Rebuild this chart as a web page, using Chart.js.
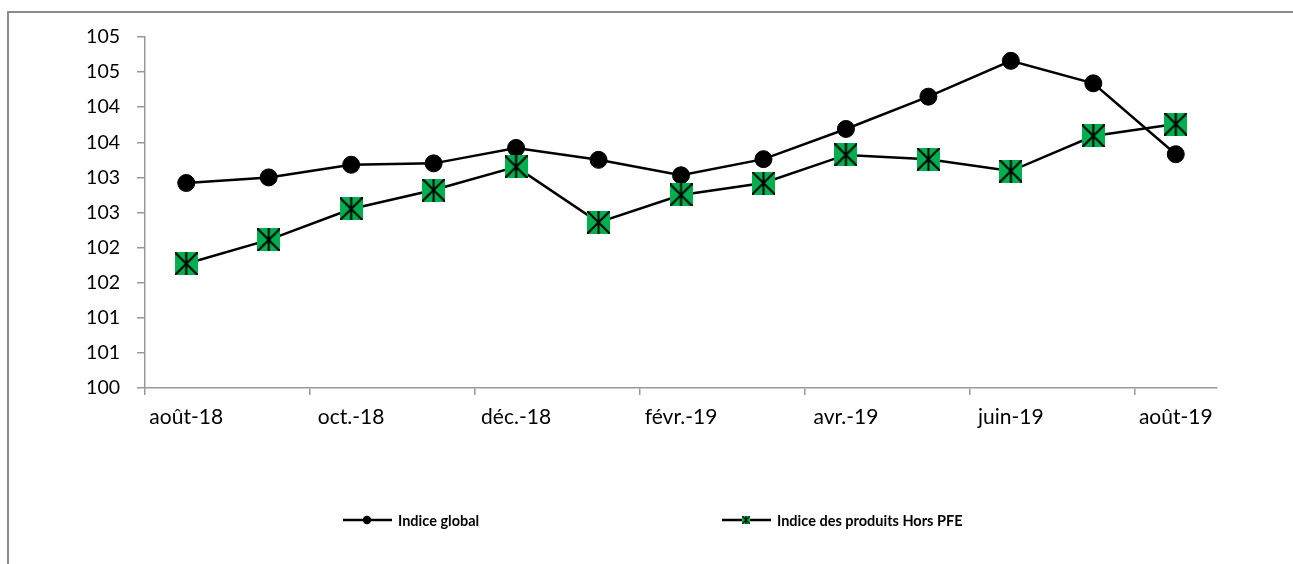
<!DOCTYPE html>
<html>
<head>
<meta charset="utf-8">
<script src="https://cdn.jsdelivr.net/npm/chart.js@4.4.0/dist/chart.umd.min.js"></script>
<style>
  html, body { margin: 0; padding: 0; background: #fff; }
  #frame { position: absolute; left: 7px; top: 11px; width: 1300px; height: 600px; border-left: 2px solid #8c8c8c; border-top: 2px solid #8c8c8c; }
  #wrap { position: absolute; left: 0; top: 0; width: 1293px; height: 564px; }
</style>
</head>
<body>
<div id="frame"></div>
<div id="wrap"><canvas id="chart" width="1293" height="564"></canvas></div>
<script>
const months = ["août-18", "sept.-18", "oct.-18", "nov.-18", "déc.-18", "janv.-19", "févr.-19", "mars-19", "avr.-19", "mai-19", "juin-19", "juil.-19", "août-19"];
const indiceGlobal = [102.92, 103.0, 103.18, 103.2, 103.42, 103.25, 103.03, 103.26, 103.69, 104.15, 104.66, 104.34, 103.33];
const indiceHorsPFE = [101.77, 102.11, 102.55, 102.82, 103.15, 102.36, 102.75, 102.92, 103.32, 103.26, 103.09, 103.59, 103.76];

const FONT = "Lato, 'Open Sans', sans-serif";
const GREEN = "#00b050";

// marker vert avec étoile
function makeStarSquare(size, lw) {
  const c = document.createElement("canvas");
  c.width = size; c.height = size;
  const g = c.getContext("2d");
  g.fillStyle = GREEN;
  g.fillRect(0, 0, size, size);
  g.strokeStyle = "#000";
  g.lineWidth = lw;
  g.beginPath();
  g.moveTo(0, 0); g.lineTo(size, size);
  g.moveTo(size, 0); g.lineTo(0, size);
  g.moveTo(size / 2, 0); g.lineTo(size / 2, size);
  g.stroke();
  return c;
}
const bigMarker = makeStarSquare(23, 2);
const smallMarker = makeStarSquare(8, 1.2);

const legendPlugin = {
  id: "bottomLegend",
  afterDraw(chart) {
    const ctx = chart.ctx;
    const ds = chart.data.datasets;
    const items = [
      { x: 343, label: ds[0].label, marker: "circle" },
      { x: 722, label: ds[1].label, marker: "square" }
    ];
    const y = 520;
    ctx.save();
    items.forEach(it => {
      ctx.strokeStyle = "#000";
      ctx.lineWidth = 2.5;
      ctx.beginPath();
      ctx.moveTo(it.x, y);
      ctx.lineTo(it.x + 49, y);
      ctx.stroke();
      if (it.marker === "circle") {
        ctx.fillStyle = "#000";
        ctx.beginPath();
        ctx.arc(it.x + 24, y, 4.2, 0, Math.PI * 2);
        ctx.fill();
      } else {
        ctx.drawImage(smallMarker, it.x + 24 - 4, y - 4);
      }
      ctx.fillStyle = "#000";
      ctx.font = "bold 14.5px " + FONT;
      ctx.textBaseline = "middle";
      ctx.fillText(it.label, it.x + 55, y + 1);
    });
    ctx.restore();
  }
};

new Chart(document.getElementById("chart"), {
  type: "line",
  data: {
    labels: months,
    datasets: [
      {
        label: "Indice global",
        data: indiceGlobal,
        borderColor: "#000",
        borderWidth: 2.5,
        pointStyle: "circle",
        pointRadius: 8.5,
        pointBorderWidth: 1,
        pointBackgroundColor: "#000",
        pointBorderColor: "#000",
        order: 1
      },
      {
        label: "Indice des produits Hors PFE",
        data: indiceHorsPFE,
        borderColor: "#000",
        borderWidth: 2.5,
        pointStyle: bigMarker,
        pointRadius: 11,
        order: 0
      }
    ]
  },
  options: {
    responsive: false,
    animation: false,
    layout: { padding: { left: 0, right: 76, top: 37, bottom: 0 } },
    plugins: {
      legend: { display: false },
      tooltip: { enabled: false }
    },
    scales: {
      x: {
        offset: true,
        grid: {
          offset: true,
          drawOnChartArea: false,
          tickLength: 7,
          lineWidth: 1.5,
          color: (c) => (c.index % 2 === 0 && c.index < months.length) ? "#999" : "rgba(0,0,0,0)"
        },
        border: { color: "#999", width: 1.5 },
        ticks: {
          autoSkip: false,
          maxRotation: 0,
          color: "#000",
          font: { family: FONT, size: 21 },
          padding: 10,
          callback: (v, i) => i % 2 === 0 ? months[i] : ""
        },
        afterFit: (scale) => { scale.height = 564 - 388; }
      },
      y: {
        min: 100,
        max: 105,
        grid: {
          drawOnChartArea: false,
          tickLength: 8,
          lineWidth: 1.5,
          color: "#999"
        },
        border: { color: "#999", width: 1.5 },
        ticks: {
          stepSize: 0.5,
          color: "#000",
          font: { family: FONT, size: 19.5 },
          padding: 17,
          callback: (v) => Math.round(v)
        },
        afterFit: (scale) => { scale.width = 145; }
      }
    }
  },
  plugins: [legendPlugin]
});
</script>
</body>
</html>
